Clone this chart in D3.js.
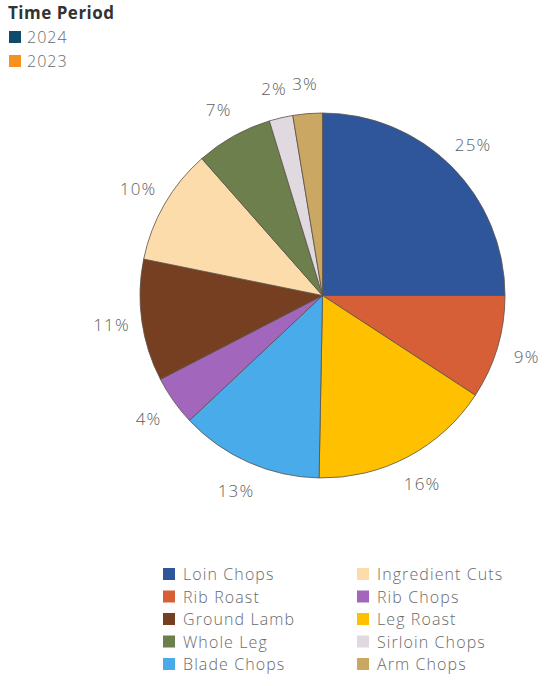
<!DOCTYPE html>
<html>
<head>
<meta charset="utf-8">
<script src="https://cdn.jsdelivr.net/npm/d3@7"></script>
<style>
  html, body { margin: 0; padding: 0; background: #ffffff; }
  svg { display: block; font-family: "Open Sans", "DejaVu Sans", sans-serif; }
</style>
</head>
<body>
<svg id="chart" width="551" height="686"></svg>
<script>
// Share of lamb cuts (percent), clockwise from 12 o'clock
const categories = ["Loin Chops", "Rib Roast", "Leg Roast", "Blade Chops", "Rib Chops",
                    "Ground Lamb", "Ingredient Cuts", "Whole Leg", "Sirloin Chops", "Arm Chops"];
const shares = [25.0, 9.2, 16.1, 12.7, 4.4, 10.8, 10.3, 6.8, 2.1, 2.6];
const sliceColors = ["#2f569b", "#d65f37", "#ffc000", "#4aabea", "#a267bd",
                     "#763f22", "#fddcab", "#6c7f4c", "#e0d9e0", "#cba764"];

// Legend arrangement below the pie (two columns)
const legendColumns = [
  ["Loin Chops", "Rib Roast", "Ground Lamb", "Whole Leg", "Blade Chops"],
  ["Ingredient Cuts", "Rib Chops", "Leg Roast", "Sirloin Chops", "Arm Chops"]
];

// Time period legend (top left)
const periodTitle = "Time Period";
const periods = ["2024", "2023"];
const periodColors = ["#124a6b", "#f7901e"];

const svg = d3.select("#chart");
const cx = 322.5, cy = 295.5, radius = 182.5, labelRadius = 213;

const color = d3.scaleOrdinal().domain(categories).range(sliceColors);
const total = d3.sum(shares);
const rows = categories.map((c, i) => ({ name: c, value: shares[i] }));

const pie = d3.pie().value(d => d.value).sort(null).startAngle(0).endAngle(2 * Math.PI);
const arcs = pie(rows);
const arc = d3.arc().innerRadius(0).outerRadius(radius);
const labelArc = d3.arc().innerRadius(labelRadius).outerRadius(labelRadius);

const g = svg.append("g").attr("transform", `translate(${cx},${cy})`);

g.selectAll("path.slice")
  .data(arcs)
  .join("path")
  .attr("class", "slice")
  .attr("d", arc)
  .attr("fill", d => color(d.data.name))
  .attr("stroke", "#5a5148")
  .attr("stroke-width", 0.8)
  .attr("stroke-linejoin", "round");

g.selectAll("text.pct")
  .data(arcs)
  .join("text")
  .attr("class", "pct")
  .attr("transform", d => `translate(${labelArc.centroid(d)})`)
  .attr("text-anchor", "middle")
  .attr("dominant-baseline", "central")
  .attr("font-size", 17)
  .attr("font-weight", 300)
  .attr("letter-spacing", 1.2)
  .attr("fill", "#606060")
  .text(d => Math.round(d.data.value / total * 100) + "%");

// Time period legend
const tl = svg.append("g").attr("transform", "translate(8,0)");
tl.append("text")
  .attr("x", 0).attr("y", 19)
  .attr("font-size", 17)
  .attr("font-weight", "bold")
  .attr("letter-spacing", 0.5)
  .attr("fill", "#333333")
  .text(periodTitle);
const pItems = tl.selectAll("g.period")
  .data(periods)
  .join("g")
  .attr("class", "period")
  .attr("transform", (d, i) => `translate(0,${37 + i * 24})`);
pItems.append("rect")
  .attr("x", 1).attr("y", -6)
  .attr("width", 12).attr("height", 12)
  .attr("fill", (d, i) => periodColors[i]);
pItems.append("text")
  .attr("x", 19).attr("y", 0)
  .attr("dominant-baseline", "central")
  .attr("font-size", 16)
  .attr("font-weight", 300)
  .attr("letter-spacing", 1)
  .attr("fill", "#6a6a6a")
  .text(d => d);

// Category legend
const colX = [163, 357];
legendColumns.forEach((col, ci) => {
  const items = svg.append("g")
    .selectAll("g")
    .data(col)
    .join("g")
    .attr("transform", (d, i) => `translate(${colX[ci]},${574 + i * 22.5})`);
  items.append("rect")
    .attr("x", 0).attr("y", -6)
    .attr("width", 12).attr("height", 12)
    .attr("fill", d => color(d));
  items.append("text")
    .attr("x", 20).attr("y", 0)
    .attr("dominant-baseline", "central")
    .attr("font-size", 16)
    .attr("font-weight", 300)
    .attr("letter-spacing", 1.1)
    .attr("fill", "#6a6a6a")
    .text(d => d);
});
</script>
</body>
</html>
